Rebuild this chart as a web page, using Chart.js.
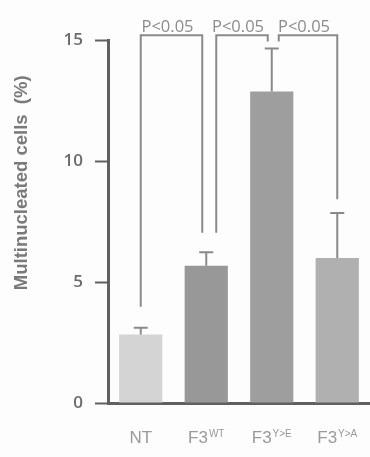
<!DOCTYPE html>
<html>
<head>
<meta charset="utf-8">
<script src="https://cdn.jsdelivr.net/npm/chart.js@4.4.1/dist/chart.umd.min.js"></script>
<style>
  html, body { margin: 0; padding: 0; background: #fdfdfd; }
  #wrap { width: 370px; height: 457px; }
</style>
</head>
<body>
<div id="wrap"><canvas id="multiChart" width="370" height="457"></canvas></div>
<script>
// data
const categories = ['NT', 'F3', 'F3', 'F3'];
const superscripts = ['', 'WT', 'Y>E', 'Y>A'];
const means = [2.83, 5.67, 12.87, 5.99];
const errors = [0.28, 0.56, 1.78, 1.86];
const barColors = ['#d4d4d4', '#989898', '#9e9e9e', '#b0b0b0'];
const yTicks = [0, 5, 10, 15];
const yTitle = 'Multinucleated cells  (%)';

// significance brackets: which bars, label, where each leg stops (in %)
const compPairs = [[0, 1], [1, 2], [2, 3]];
const compLabels = ['P<0.05', 'P<0.05', 'P<0.05'];
const legEnds = [[3.98, 7.04], [7.04, 14.94], [14.94, 8.42]];
const bracketTop = 15.2;

const lineGray = '#8a8a8a';

const extras = {
  id: 'extras',
  afterDatasetsDraw(chart) {
    const ctx = chart.ctx;
    const x = chart.scales.x, y = chart.scales.y;
    ctx.save();

    // error bars (upper only)
    ctx.strokeStyle = lineGray;
    ctx.lineWidth = 2;
    means.forEach((m, i) => {
      const cx = x.getPixelForValue(i);
      const yTop = y.getPixelForValue(m + errors[i]);
      ctx.beginPath();
      ctx.moveTo(cx, y.getPixelForValue(m));
      ctx.lineTo(cx, yTop);
      ctx.moveTo(cx - 7, yTop);
      ctx.lineTo(cx + 7, yTop);
      ctx.stroke();
    });

    // brackets
    const legShift = [0, -4, -4, 0];
    const legShiftR = [0, 10, 7, 0];
    ctx.lineWidth = 2;
    compPairs.forEach((p, k) => {
      const xa = x.getPixelForValue(p[0]) + (k === 0 ? 0 : legShiftR[p[0]]);
      const xb = x.getPixelForValue(p[1]) + legShift[p[1]];
      const yt = y.getPixelForValue(bracketTop);
      ctx.beginPath();
      ctx.moveTo(xa, y.getPixelForValue(legEnds[k][0]));
      ctx.lineTo(xa, yt);
      ctx.lineTo(xb, yt);
      ctx.lineTo(xb, y.getPixelForValue(legEnds[k][1]));
      ctx.stroke();

      ctx.fillStyle = '#8c8c8c';
      ctx.font = '16.5px "Open Sans"';
      ctx.textAlign = 'center';
      ctx.textBaseline = 'alphabetic';
      ctx.fillText(compLabels[k], (xa + xb) / 2 - 4, yt - 3);
    });

    // category labels with superscripts
    ctx.fillStyle = '#9a9a9a';
    ctx.textBaseline = 'alphabetic';
    ctx.textAlign = 'left';
    const base = y.getPixelForValue(0) + 40;
    categories.forEach((c, i) => {
      ctx.font = '17px "Liberation Sans"';
      const w1 = ctx.measureText(c).width;
      ctx.font = '10px "Liberation Sans"';
      const w2 = superscripts[i] ? ctx.measureText(superscripts[i]).width + 1 : 0;
      const start = x.getPixelForValue(i) - (w1 + w2) / 2;
      ctx.font = '17px "Liberation Sans"';
      ctx.fillText(c, start, base);
      if (superscripts[i]) {
        ctx.font = '10px "Liberation Sans"';
        ctx.fillText(superscripts[i], start + w1 + 1, base - 6);
      }
    });

    // y axis title
    ctx.translate(22, y.getPixelForValue(9.1));
    ctx.rotate(-Math.PI / 2);
    ctx.textAlign = 'center';
    ctx.textBaseline = 'middle';
    ctx.fillStyle = '#7a7a7a';
    ctx.font = 'bold 18.5px "Liberation Sans"';
    ctx.fillText(yTitle, 0, 0);
    ctx.restore();
  }
};

new Chart(document.getElementById('multiChart').getContext('2d'), {
  type: 'bar',
  data: {
    labels: categories.map((c, i) => c + superscripts[i]),
    datasets: [{
      data: means,
      backgroundColor: barColors,
      borderWidth: 0,
      barPercentage: 0.66,
      categoryPercentage: 1.0
    }]
  },
  options: {
    responsive: false,
    animation: false,
    layout: { padding: { top: 40, bottom: 46, left: 0, right: 0 } },
    plugins: { legend: { display: false }, tooltip: { enabled: false } },
    scales: {
      x: {
        ticks: { display: false },
        grid: { display: false },
        border: { display: true, color: '#606060', width: 3 }
      },
      y: {
        min: 0,
        max: 15,
        afterFit(s) { s.width = 108; },
        afterBuildTicks(s) { s.ticks = yTicks.map(v => ({ value: v })); },
        ticks: {
          color: '#6c6c6c',
          padding: 12,
          font: { family: '"Open Sans"', size: 17, weight: '600' }
        },
        grid: { drawOnChartArea: false, tickLength: 13, tickColor: '#606060', tickWidth: 2 },
        border: { color: '#606060', width: 3 }
      }
    }
  },
  plugins: [extras]
});
</script>
</body>
</html>
